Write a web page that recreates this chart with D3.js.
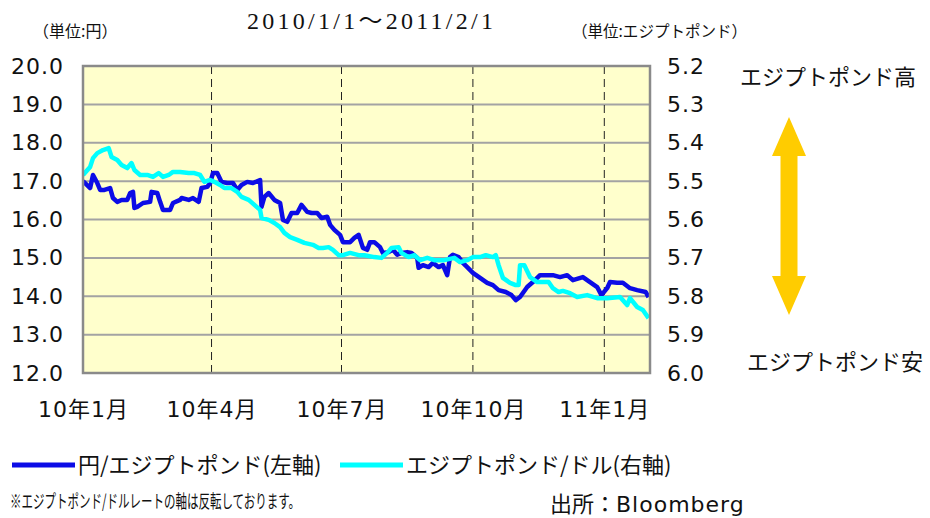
<!DOCTYPE html>
<html>
<head>
<meta charset="utf-8">
<script src="https://cdn.jsdelivr.net/npm/d3@7"></script>
<style>
body { margin: 0; background: #fff; }
.tick text { font-family: "DejaVu Sans", "Noto Sans CJK JP", sans-serif; font-size: 22px; fill: #111; letter-spacing: 1px; }
.jp { font-family: "Noto Sans CJK JP", sans-serif; fill: #111; }
</style>
</head>
<body>
<div id="chart"></div>
<script>
// 円/エジプトポンド (left axis)
var yenDates = ["2010-01-01","2010-01-06","2010-01-08","2010-01-11","2010-01-13","2010-01-16","2010-01-20","2010-01-22","2010-01-25","2010-01-28",
  "2010-02-01","2010-02-03","2010-02-05","2010-02-06","2010-02-08","2010-02-12","2010-02-17","2010-02-18","2010-02-22","2010-02-24","2010-02-26",
  "2010-03-03","2010-03-05","2010-03-10","2010-03-11","2010-03-16","2010-03-19","2010-03-23","2010-03-25","2010-03-29","2010-03-31",
  "2010-04-02","2010-04-05","2010-04-08","2010-04-12","2010-04-16","2010-04-19","2010-04-22","2010-04-26","2010-04-30",
  "2010-05-05","2010-05-06","2010-05-08","2010-05-11","2010-05-15","2010-05-19","2010-05-21","2010-05-24","2010-05-27","2010-05-31",
  "2010-06-03","2010-06-07","2010-06-10","2010-06-14","2010-06-17","2010-06-21","2010-06-23","2010-06-26","2010-06-30",
  "2010-07-02","2010-07-07","2010-07-10","2010-07-13","2010-07-16","2010-07-19","2010-07-21","2010-07-24","2010-07-28","2010-07-30",
  "2010-08-03","2010-08-06","2010-08-09","2010-08-12","2010-08-16","2010-08-19","2010-08-23","2010-08-24","2010-08-27","2010-08-31",
  "2010-09-03","2010-09-07","2010-09-10","2010-09-13","2010-09-15","2010-09-17","2010-09-21","2010-09-24","2010-09-27",
  "2010-10-01","2010-10-06","2010-10-11","2010-10-15","2010-10-19","2010-10-24","2010-10-28","2010-10-31",
  "2010-11-03","2010-11-08","2010-11-12","2010-11-17","2010-11-22","2010-11-26",
  "2010-12-01","2010-12-06","2010-12-10","2010-12-17","2010-12-22","2010-12-27","2010-12-30",
  "2011-01-03","2011-01-05","2011-01-10","2011-01-14","2011-01-19","2011-01-24","2011-01-30","2011-02-01"];
var yenValues = [17.00,16.82,17.16,16.95,16.77,16.77,16.82,16.56,16.46,16.51,
  16.51,16.69,16.72,16.30,16.33,16.43,16.46,16.72,16.69,16.46,16.25,
  16.25,16.43,16.51,16.56,16.51,16.56,16.46,16.82,16.85,16.95,
  17.21,17.21,16.98,16.95,16.95,16.77,16.90,16.98,16.95,
  17.03,16.33,16.59,16.69,16.51,16.43,15.99,15.94,16.17,16.17,
  16.38,16.20,16.17,16.17,16.04,16.07,15.86,15.73,15.60,
  15.41,15.41,15.52,15.60,15.26,15.21,15.41,15.41,15.28,15.13,
  15.15,15.21,15.08,15.13,15.15,15.13,15.00,14.74,14.81,14.76,
  14.87,14.76,14.81,14.55,15.02,15.08,15.02,14.87,14.76,
  14.61,14.48,14.35,14.29,14.16,14.11,14.03,13.90,
  13.98,14.24,14.37,14.55,14.55,14.55,
  14.50,14.55,14.42,14.50,14.37,14.24,14.03,
  14.21,14.37,14.35,14.35,14.21,14.16,14.11,13.98];

// エジプトポンド/ドル (right axis, reversed)
var usdDates = ["2010-01-01","2010-01-06","2010-01-08","2010-01-11","2010-01-15","2010-01-19","2010-01-21","2010-01-25","2010-01-28",
  "2010-02-01","2010-02-04","2010-02-06","2010-02-10","2010-02-15","2010-02-19","2010-02-23","2010-02-26",
  "2010-03-02","2010-03-05","2010-03-10","2010-03-16","2010-03-20","2010-03-24","2010-03-27","2010-03-31",
  "2010-04-03","2010-04-07","2010-04-10","2010-04-15","2010-04-19","2010-04-22","2010-04-27",
  "2010-05-01","2010-05-05","2010-05-06","2010-05-11","2010-05-15","2010-05-19","2010-05-22","2010-05-26","2010-05-31",
  "2010-06-05","2010-06-11","2010-06-15","2010-06-18","2010-06-22","2010-06-25","2010-06-29",
  "2010-07-02","2010-07-07","2010-07-13","2010-07-17","2010-07-24","2010-07-29",
  "2010-08-02","2010-08-05","2010-08-10","2010-08-12","2010-08-17","2010-08-21","2010-08-25","2010-08-30",
  "2010-09-04","2010-09-11","2010-09-18","2010-09-22","2010-09-27",
  "2010-10-01","2010-10-06","2010-10-10","2010-10-15","2010-10-17","2010-10-19","2010-10-22","2010-10-27","2010-10-31",
  "2010-11-02","2010-11-03","2010-11-06","2010-11-10","2010-11-15","2010-11-19","2010-11-23","2010-11-26","2010-11-30",
  "2010-12-03","2010-12-08","2010-12-13","2010-12-20","2010-12-27",
  "2011-01-03","2011-01-12","2011-01-17","2011-01-19","2011-01-24","2011-01-28","2011-02-01"];
var usdValues = [5.484,5.463,5.440,5.427,5.419,5.414,5.437,5.445,5.458,
  5.466,5.453,5.471,5.484,5.484,5.489,5.479,5.489,
  5.484,5.476,5.476,5.479,5.479,5.484,5.502,5.497,
  5.502,5.510,5.518,5.518,5.528,5.541,5.549,
  5.562,5.575,5.596,5.601,5.609,5.620,5.635,5.646,5.653,
  5.661,5.666,5.674,5.674,5.672,5.679,5.693,
  5.693,5.687,5.693,5.693,5.698,5.700,
  5.687,5.674,5.672,5.687,5.698,5.693,5.706,5.700,
  5.706,5.706,5.700,5.711,5.706,
  5.698,5.698,5.693,5.698,5.693,5.719,5.752,5.765,5.771,
  5.771,5.719,5.719,5.750,5.763,5.763,5.763,5.779,5.789,
  5.786,5.792,5.802,5.797,5.805,
  5.805,5.802,5.823,5.805,5.828,5.836,5.857];

var leftTicks = [12, 13, 14, 15, 16, 17, 18, 19, 20];
var rightTicks = [5.2, 5.3, 5.4, 5.5, 5.6, 5.7, 5.8, 5.9, 6.0];
var monthTicks = ["2010-01-01", "2010-04-01", "2010-07-01", "2010-10-01", "2011-01-01"];
var monthLabels = ["10年1月", "10年4月", "10年7月", "10年10月", "11年1月"];
var dateRange = ["2010-01-01", "2011-02-02"];

var parse = d3.timeParse("%Y-%m-%d");
var yenData = yenDates.map(function(d, i) { return {date: parse(d), value: yenValues[i]}; });
var usdData = usdDates.map(function(d, i) { return {date: parse(d), value: usdValues[i]}; });

var margin = {top: 66, right: 280, bottom: 145, left: 83};
var width = 930 - margin.left - margin.right;
var height = 518 - margin.top - margin.bottom;

var svg = d3.select("#chart").append("svg")
    .attr("width", 930)
    .attr("height", 518);

var g = svg.append("g")
    .attr("transform", "translate(" + margin.left + "," + margin.top + ")");

// scales
var x = d3.scaleTime().domain(dateRange.map(parse)).range([0, width]);
var yLeft = d3.scaleLinear().domain([12, 20]).range([height, 0]);
var yRight = d3.scaleLinear().domain([5.2, 6.0]).range([0, height]);

// plot background
g.append("rect")
    .attr("width", width)
    .attr("height", height)
    .attr("fill", "#ffffcc");

// horizontal grid
g.selectAll("line.grid")
    .data(leftTicks.slice(1, -1))
    .enter().append("line")
    .attr("class", "grid")
    .attr("x1", 0).attr("x2", width)
    .attr("y1", function(d) { return yLeft(d); })
    .attr("y2", function(d) { return yLeft(d); })
    .attr("stroke", "#a3a3a3")
    .attr("stroke-width", 2);

// quarter dashed lines
g.selectAll("line.vgrid")
    .data(monthTicks.slice(1).map(parse))
    .enter().append("line")
    .attr("class", "vgrid")
    .attr("x1", function(d) { return x(d); })
    .attr("x2", function(d) { return x(d); })
    .attr("y1", 0).attr("y2", height)
    .attr("stroke", "#222")
    .attr("stroke-width", 1)
    .attr("stroke-dasharray", "8,5");

// clip
svg.append("clipPath").attr("id", "clip")
    .append("rect").attr("width", width).attr("height", height);

var lineYen = d3.line()
    .x(function(d) { return x(d.date); })
    .y(function(d) { return yLeft(d.value); });

var lineUsd = d3.line()
    .x(function(d) { return x(d.date); })
    .y(function(d) { return yRight(d.value); });

var lines = g.append("g").attr("clip-path", "url(#clip)");

lines.append("path")
    .datum(yenData)
    .attr("d", lineYen)
    .attr("fill", "none")
    .attr("stroke", "#0c0ce6")
    .attr("stroke-width", 4.5)
    .attr("stroke-linejoin", "round");

lines.append("path")
    .datum(usdData)
    .attr("d", lineUsd)
    .attr("fill", "none")
    .attr("stroke", "#00ffff")
    .attr("stroke-width", 4.5)
    .attr("stroke-linejoin", "round");

// frame
g.append("rect")
    .attr("width", width)
    .attr("height", height)
    .attr("fill", "none")
    .attr("stroke", "#8a8a8a")
    .attr("stroke-width", 2.5);

// axes
var fmt = d3.format(".1f");

g.append("g")
    .call(d3.axisLeft(yLeft).tickValues(leftTicks).tickFormat(fmt).tickSize(0).tickPadding(19))
    .call(function(a) { a.select(".domain").remove(); });

g.append("g")
    .attr("transform", "translate(" + width + ",0)")
    .call(d3.axisRight(yRight).tickValues(rightTicks).tickFormat(fmt).tickSize(0).tickPadding(17))
    .call(function(a) { a.select(".domain").remove(); });

g.append("g")
    .attr("transform", "translate(0," + height + ")")
    .call(d3.axisBottom(x).tickValues(monthTicks.map(parse))
        .tickFormat(function(d, i) { return monthLabels[i]; })
        .tickSize(0).tickPadding(28))
    .call(function(a) { a.select(".domain").remove(); });

// headers
svg.append("text")
    .attr("x", 370).attr("y", 29)
    .attr("text-anchor", "middle")
    .attr("textLength", 246)
    .attr("lengthAdjust", "spacing")
    .style("font-family", "'Liberation Serif', 'Noto Sans CJK JP', serif")
    .style("font-size", "24px")
    .style("fill", "#111")
    .text("2010/1/1～2011/2/1");

svg.append("text")
    .attr("class", "jp")
    .attr("x", 33).attr("y", 37)
    .style("font-size", "16px")
    .text("（単位:円）");

svg.append("text")
    .attr("class", "jp")
    .attr("x", 572).attr("y", 37)
    .style("font-size", "16px")
    .attr("textLength", 175)
    .attr("lengthAdjust", "spacingAndGlyphs")
    .text("（単位:エジプトポンド）");

// direction annotation
svg.append("text")
    .attr("class", "jp")
    .attr("x", 740).attr("y", 85)
    .style("font-size", "22px")
    .text("エジプトポンド高");

svg.append("text")
    .attr("class", "jp")
    .attr("x", 747).attr("y", 370)
    .style("font-size", "22px")
    .text("エジプトポンド安");

var ax = 789, arrowTop = 117, arrowBot = 315, head = 39, hw = 17, sw = 8.5;
svg.append("path")
    .attr("d", "M" + ax + "," + arrowTop +
        "L" + (ax + hw) + "," + (arrowTop + head) +
        "L" + (ax + sw) + "," + (arrowTop + head) +
        "L" + (ax + sw) + "," + (arrowBot - head) +
        "L" + (ax + hw) + "," + (arrowBot - head) +
        "L" + ax + "," + arrowBot +
        "L" + (ax - hw) + "," + (arrowBot - head) +
        "L" + (ax - sw) + "," + (arrowBot - head) +
        "L" + (ax - sw) + "," + (arrowTop + head) +
        "L" + (ax - hw) + "," + (arrowTop + head) + "Z")
    .attr("fill", "#ffcc00");

// legend
var legend = [
    {label: "円/エジプトポンド(左軸)", color: "#0c0ce6", x: 12},
    {label: "エジプトポンド/ドル(右軸)", color: "#00ffff", x: 340}
];
var lg = svg.selectAll("g.legend").data(legend).enter().append("g")
    .attr("class", "legend")
    .attr("transform", function(d) { return "translate(" + d.x + ",465)"; });
lg.append("line")
    .attr("x1", 0).attr("x2", 63)
    .attr("stroke", function(d) { return d.color; })
    .attr("stroke-width", 5);
lg.append("text")
    .attr("class", "jp")
    .attr("x", 66).attr("y", 8)
    .style("font-size", "22px")
    .text(function(d) { return d.label; });

// notes
svg.append("text")
    .attr("class", "jp")
    .attr("x", 10).attr("y", 508)
    .attr("textLength", 290)
    .attr("lengthAdjust", "spacingAndGlyphs")
    .style("font-size", "18px")
    .text("※エジプトポンド/ドルレートの軸は反転しております。");

var src = svg.append("text")
    .attr("x", 550).attr("y", 512)
    .style("font-size", "22px")
    .style("fill", "#111");
src.append("tspan")
    .style("font-family", "'Noto Sans CJK JP', sans-serif")
    .text("出所：");
src.append("tspan")
    .style("font-family", "'DejaVu Sans', sans-serif")
    .style("letter-spacing", "1px")
    .text("Bloomberg");
</script>
</body>
</html>
